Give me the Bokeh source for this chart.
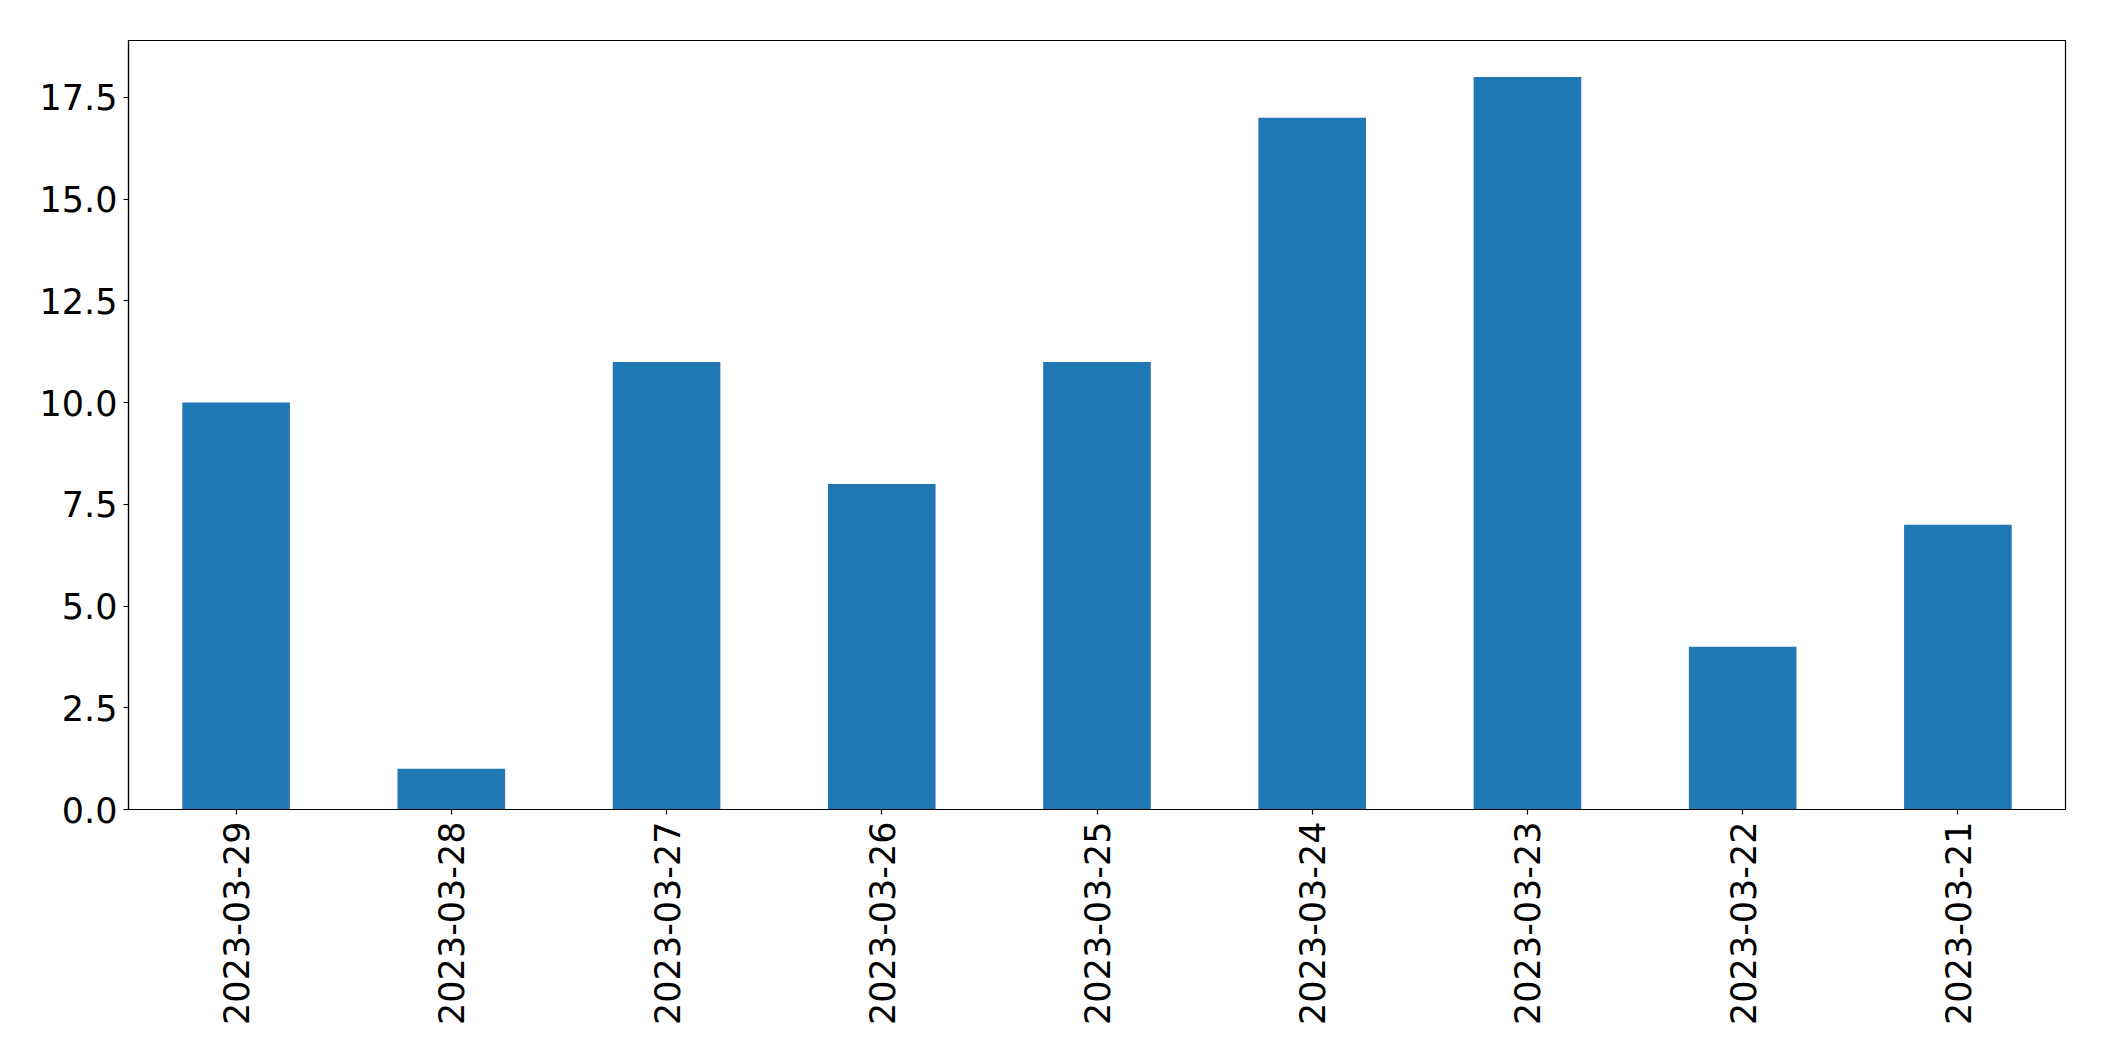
from bokeh.plotting import figure
from bokeh.models import FactorRange, Range1d, FixedTicker
from bokeh.embed import file_html
from bokeh.resources import INLINE
import math

dates = ["2023-03-29", "2023-03-28", "2023-03-27", "2023-03-26", "2023-03-25",
         "2023-03-24", "2023-03-23", "2023-03-22", "2023-03-21"]
counts = [10, 1, 11, 8, 11, 17, 18, 4, 7]
y_ticks = [0, 2.5, 5, 7.5, 10, 12.5, 15, 17.5]
y_tick_labels = ["0.0", "2.5", "5.0", "7.5", "10.0", "12.5", "15.0", "17.5"]

p = figure(x_range=FactorRange(*dates, range_padding=0), y_range=Range1d(0, 18.9),
           width=2080, height=1040, output_backend="svg", toolbar_location=None,
           min_border_left=128, min_border_right=15, min_border_top=40, min_border_bottom=231)
p.vbar(x=dates, top=counts, width=0.5, fill_color="#1f77b4", line_color=None)

p.xgrid.visible = False
p.ygrid.visible = False
p.outline_line_color = "black"
p.outline_line_width = 1.2
p.outline_line_alpha = 1

for ax in (p.xaxis[0], p.yaxis[0]):
    ax.axis_line_color = "black"
    ax.axis_line_width = 1.2
    ax.major_tick_line_color = "black"
    ax.major_tick_line_width = 1.2
    ax.major_tick_out = 5
    ax.major_tick_in = 0
    ax.minor_tick_line_color = None
    ax.major_label_text_font = "DejaVu Sans"
    ax.major_label_text_font_size = "35px"
    ax.major_label_text_color = "black"

p.yaxis[0].ticker = FixedTicker(ticks=y_ticks)
p.yaxis[0].major_label_overrides = {t: l for t, l in zip(y_ticks, y_tick_labels)}
p.yaxis[0].major_label_standoff = 6
p.xaxis[0].major_label_orientation = math.pi / 2
p.xaxis[0].major_label_standoff = 7

open("out.html", "w").write(file_html(p, INLINE))
